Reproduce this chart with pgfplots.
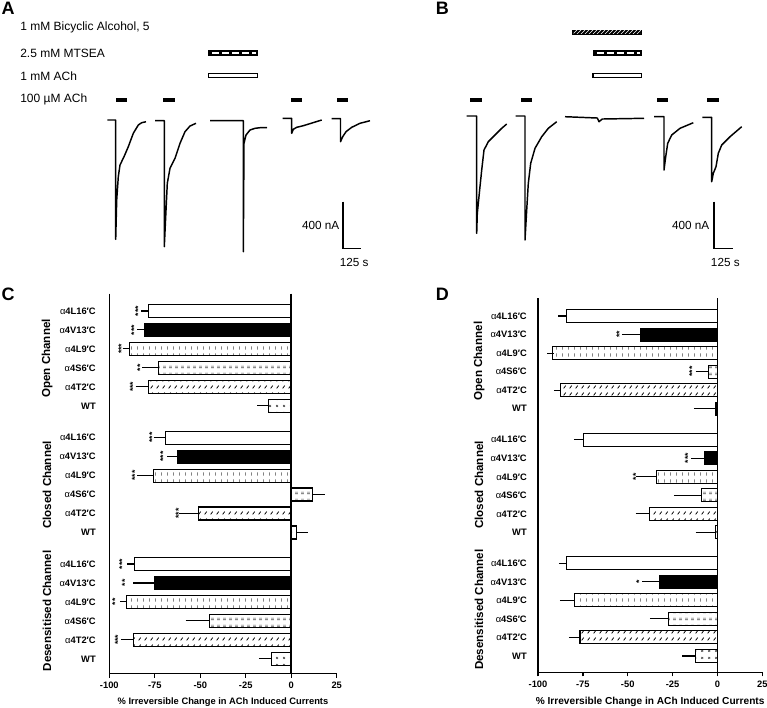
\documentclass[border=0pt]{standalone}
\usepackage{fontspec}
\setmainfont{Liberation Sans}
\usepackage{pgfplots}
\pgfplotsset{compat=1.18}
\usetikzlibrary{patterns}

\pgfdeclarepatternformonly{vdash}{\pgfpointorigin}{\pgfqpoint{4.2pt}{4.9pt}}{\pgfqpoint{4.2pt}{4.9pt}}{%
  \pgfsetlinewidth{0.55pt}%
  \pgfpathmoveto{\pgfqpoint{2.1pt}{1.2pt}}\pgfpathlineto{\pgfqpoint{2.1pt}{3.7pt}}\pgfusepath{stroke}}
\pgfdeclarepatternformonly{hdash}{\pgfpointorigin}{\pgfqpoint{4.5pt}{4.9pt}}{\pgfqpoint{4.5pt}{4.9pt}}{%
  \pgfsetlinewidth{0.45pt}%
  \pgfpathmoveto{\pgfqpoint{1.0pt}{1.8pt}}\pgfpathlineto{\pgfqpoint{3.3pt}{1.8pt}}%
  \pgfpathmoveto{\pgfqpoint{1.0pt}{3.1pt}}\pgfpathlineto{\pgfqpoint{3.3pt}{3.1pt}}\pgfusepath{stroke}}
\pgfdeclarepatternformonly{slashes}{\pgfpointorigin}{\pgfqpoint{4.3pt}{4.9pt}}{\pgfqpoint{4.3pt}{4.9pt}}{%
  \pgfsetlinewidth{0.6pt}%
  \pgfpathmoveto{\pgfqpoint{1.3pt}{1.3pt}}\pgfpathlineto{\pgfqpoint{2.9pt}{3.5pt}}\pgfusepath{stroke}}
\pgfdeclarepatternformonly{xdots}{\pgfpointorigin}{\pgfqpoint{4.9pt}{4.9pt}}{\pgfqpoint{4.9pt}{4.9pt}}{%
  \pgfsetlinewidth{0.45pt}%
  \pgfpathmoveto{\pgfqpoint{1.7pt}{1.7pt}}\pgfpathlineto{\pgfqpoint{3.2pt}{3.2pt}}%
  \pgfpathmoveto{\pgfqpoint{1.7pt}{3.2pt}}\pgfpathlineto{\pgfqpoint{3.2pt}{1.7pt}}\pgfusepath{stroke}}

\newcommand{\lab}[1]{{\mdseries α}4#1′C}

\tikzset{starlab/.style={xshift=-1.2pt, rotate=90, font=\bfseries\fontsize{6.5}{6.5}\selectfont, inner sep=0pt}}

\pgfplotsset{
  barpanel/.style={
    scale only axis, y dir=reverse, clip=false,
    xmin=-100, xmax=25,
    xbar, bar width=9.75pt, bar shift=0pt,
    axis x line*=bottom, axis y line*=left,
    axis line style={-, line width=1pt, black},
    xtick={-100,-75,-50,-25,0,25},
    xticklabels={-100,-75,-50,-25,0,25},
    xtick align=outside, major tick length=3pt,
    x tick style={black, line width=1pt},
    ytick={0,1,2,3,4,5,6.67,7.67,8.67,9.67,10.67,11.67,13.33,14.33,15.33,16.33,17.33,18.33},
    yticklabels={\lab{L16},\lab{V13},\lab{L9},\lab{S6},\lab{T2},WT,
                 \lab{L16},\lab{V13},\lab{L9},\lab{S6},\lab{T2},WT,
                 \lab{L16},\lab{V13},\lab{L9},\lab{S6},\lab{T2},WT},
    y tick style={draw=none},
    xticklabel style={font=\bfseries\fontsize{7}{8}\selectfont},
    yticklabel style={font=\bfseries\fontsize{7}{8}\selectfont, inner sep=0pt},
    error bars/x dir=both, error bars/x explicit,
    error bars/error bar style={line width=0.8pt, black},
    error bars/error mark options={line width=0.8pt, mark size=2.6pt, black},
  },
  bL16/.style={fill=white, draw=black, line width=0.8pt},
  bV13/.style={fill=black, draw=black, line width=0.8pt},
  bL9/.style={pattern=vdash, pattern color=black!75, draw=black, line width=0.8pt},
  bS6/.style={pattern=hdash, pattern color=black!70, draw=black, line width=0.8pt},
  bT2/.style={pattern=slashes, pattern color=black, draw=black, line width=0.8pt},
  bWT/.style={pattern=xdots, pattern color=black!70, draw=black, line width=0.8pt},
}

\begin{document}
\begin{tikzpicture}
\useasboundingbox (0,0) rectangle (575.25pt,-530.25pt);

% ---------------- overlay: panels A and B ----------------
\begin{axis}[at={(0pt,0pt)}, anchor=north west, x=0.75pt, y=0.75pt, y dir=reverse,
  xmin=0, xmax=767, ymin=0, ymax=707, hide axis, clip=false]
% traces A
\addplot[black, line width=1.1pt, line join=round] coordinates {(107.3,120) (115.7,120) (115.7,239.3) (116.7,200) (118.3,176.7) (120,165) (124,156.7) (128.3,146.7) (133.3,133.3) (138.3,125) (141.7,122.7) (146,121.7)};
\addplot[black, line width=1.1pt, line join=round] coordinates {(155,120.7) (164.3,120.7) (164.3,246.7) (165.7,216.7) (167.3,183.3) (170,168.3) (175,158.3) (180,143.3) (185,131.7) (190,126) (196,123.3)};
\addplot[black, line width=1.1pt, line join=round] coordinates {(210,120.7) (243.3,120.7) (243.3,251.7) (244,143.3) (246,135) (250,130) (255,128.3) (260,127.7) (267,127.5)};
\addplot[black, line width=1.1pt, line join=round] coordinates {(282.7,118.3) (291.7,118.3) (291.7,133.3) (293.3,129.3) (296.7,127.3) (303.3,125.7) (321.7,120)};
\addplot[black, line width=1.1pt, line join=round] coordinates {(331.7,118.7) (340.5,118.7) (340.5,141.7) (342.7,136.7) (346,131.7) (351.7,127.3) (360,123.3) (370,120.7)};
% traces B
\addplot[black, line width=1.1pt, line join=round] coordinates {(466.7,116) (476.7,116) (476.7,233.3) (477.3,213.3) (479.3,193.3) (481.7,170) (484,150) (488.3,141.7) (495,135) (501.7,128.3) (506.7,124)};
\addplot[black, line width=1.1pt, line join=round] coordinates {(515.7,116) (525,116) (525,240) (526.7,210) (528.3,183.3) (530.7,163.3) (535,148.3) (541.7,136.7) (548.3,128.3) (556.7,121.7)};
\addplot[black, line width=1.1pt, line join=round] coordinates {(565,116.7) (597.3,118) (599,121.7) (602.3,119) (644,118.3)};
\addplot[black, line width=1.1pt, line join=round] coordinates {(654,116.7) (664,116.7) (664,170) (665.7,156.7) (667.7,143.3) (671.7,135) (680,128.3) (693.3,122.7)};
\addplot[black, line width=1.1pt, line join=round] coordinates {(702.3,117.3) (711.7,117.3) (711.7,181.7) (713.3,173.3) (716,166.7) (718.3,153.3) (721.7,145) (730,136.7) (741.7,126.7)};
% scale bars
\addplot[black, line width=1.2pt] coordinates {(342.7,201.7) (342.7,248.5) (360.7,248.5)};
\addplot[black, line width=1.2pt] coordinates {(714,201.7) (714,248.3) (732.7,248.3)};
% 100 uM ACh bars
\addplot[fill=black, draw=none] coordinates {(116.3,97.7) (126.7,97.7) (126.7,102.3) (116.3,102.3)} -- cycle;
\addplot[fill=black, draw=none] coordinates {(163.3,97.7) (175,97.7) (175,102.3) (163.3,102.3)} -- cycle;
\addplot[fill=black, draw=none] coordinates {(290.7,97.7) (301.7,97.7) (301.7,102.3) (290.7,102.3)} -- cycle;
\addplot[fill=black, draw=none] coordinates {(337.3,97.7) (348.3,97.7) (348.3,102.3) (337.3,102.3)} -- cycle;
\addplot[fill=black, draw=none] coordinates {(470,97.7) (482.3,97.7) (482.3,102.3) (470,102.3)} -- cycle;
\addplot[fill=black, draw=none] coordinates {(520.7,97.7) (532.3,97.7) (532.3,102.3) (520.7,102.3)} -- cycle;
\addplot[fill=black, draw=none] coordinates {(656.7,97.7) (667.7,97.7) (667.7,102.3) (656.7,102.3)} -- cycle;
\addplot[fill=black, draw=none] coordinates {(707.3,97.7) (719,97.7) (719,102.3) (707.3,102.3)} -- cycle;
% 1 mM ACh bars
\addplot[fill=white, draw=black, line width=0.8pt] coordinates {(208.3,73.5) (257.3,73.5) (257.3,77.5) (208.3,77.5)} -- cycle;
\addplot[fill=white, draw=black, line width=0.8pt] coordinates {(593,73.2) (641.7,73.2) (641.7,77.2) (593,77.2)} -- cycle;
% MTSEA bars
\addplot[fill=black, draw=black, line width=0.6pt] coordinates {(208.3,50.6) (257.3,50.6) (257.3,55.4) (208.3,55.4)} -- cycle;
\addplot[white, line width=1.5pt, dash pattern=on 5.4pt off 2.1pt, dash phase=-1.5pt] coordinates {(210,53) (255.6,53)};
\addplot[fill=black, draw=black, line width=0.6pt] coordinates {(593,50.6) (641.5,50.6) (641.5,55.2) (593,55.2)} -- cycle;
\addplot[white, line width=1.5pt, dash pattern=on 5.4pt off 2.1pt, dash phase=-1.5pt] coordinates {(594.7,52.9) (639.8,52.9)};
% bicyclic alcohol bar
\addplot[fill=black, draw=black, line width=0.6pt] coordinates {(572.7,30) (641.7,30) (641.7,34.6) (572.7,34.6)} -- cycle;
\addplot[pattern=north east lines, pattern color=white, draw=none] coordinates {(573.5,30.8) (640.9,30.8) (640.9,33.8) (573.5,33.8)} -- cycle;

% texts
\node[anchor=west, font=\fontsize{9}{10}\selectfont, inner sep=0pt] at (axis cs:20,27) {1 mM Bicyclic Alcohol, 5};
\node[anchor=west, font=\fontsize{9}{10}\selectfont, inner sep=0pt] at (axis cs:20,53.5) {2.5 mM MTSEA};
\node[anchor=west, font=\fontsize{9}{10}\selectfont, inner sep=0pt] at (axis cs:20,76) {1 mM ACh};
\node[anchor=west, font=\fontsize{9}{10}\selectfont, inner sep=0pt] at (axis cs:20,99.5) {100 µM ACh};
\node[anchor=east, font=\fontsize{8.8}{10}\selectfont, inner sep=0pt] at (axis cs:339.5,225) {400 nA};
\node[anchor=west, font=\fontsize{8.8}{10}\selectfont, inner sep=0pt] at (axis cs:339.5,262) {125 s};
\node[anchor=east, font=\fontsize{8.8}{10}\selectfont, inner sep=0pt] at (axis cs:709.5,225) {400 nA};
\node[anchor=west, font=\fontsize{8.8}{10}\selectfont, inner sep=0pt] at (axis cs:710.7,262) {125 s};
% panel letters
\node[font=\bfseries\fontsize{13.5}{14}\selectfont, inner sep=0pt] at (axis cs:8,8) {A};
\node[font=\bfseries\fontsize{13.5}{14}\selectfont, inner sep=0pt] at (axis cs:442.3,8.3) {B};
\node[font=\bfseries\fontsize{13.5}{14}\selectfont, inner sep=0pt] at (axis cs:8,294) {C};
\node[font=\bfseries\fontsize{13.5}{14}\selectfont, inner sep=0pt] at (axis cs:442.3,294) {D};
% group labels
\node[rotate=90, font=\bfseries\fontsize{8.7}{10}\selectfont] at (axis cs:47,358.5) {Open Channel};
\node[rotate=90, font=\bfseries\fontsize{8.7}{10}\selectfont] at (axis cs:47,485) {Closed Channel};
\node[rotate=90, font=\bfseries\fontsize{8.7}{10}\selectfont] at (axis cs:47,611) {Desensitised Channel};
\node[rotate=90, font=\bfseries\fontsize{8.7}{10}\selectfont] at (axis cs:479,361) {Open Channel};
\node[rotate=90, font=\bfseries\fontsize{8.7}{10}\selectfont] at (axis cs:479,485) {Closed Channel};
\node[rotate=90, font=\bfseries\fontsize{8.7}{10}\selectfont] at (axis cs:479,609.7) {Desensitised Channel};
\end{axis}

% ---------------- panel C ----------------
\begin{axis}[barpanel, at={(81.975pt,-505.275pt)}, anchor=south west,
  width=170.55pt, height=285.15pt, ymin=-0.92, ymax=19.11,
  yticklabel style={xshift=-7pt},
  xlabel={\% Irreversible Change in ACh Induced Currents},
  xlabel style={font=\bfseries\fontsize{7}{8}\selectfont, at={(axis description cs:0.5,0)}, anchor=center, yshift=-21pt}]
\addplot[bL16] coordinates {(-78.6,0) += (0,0) -= (1.8,0) (-68.9,6.67) += (0,0) -= (4.8,0) (-86.3,13.33) += (0,0) -= (2,0)};
\addplot[bV13] coordinates {(-80.4,1) += (0,0) -= (2.4,0) (-62.5,7.67) += (0,0) -= (3.8,0) (-74.9,14.33) += (0,0) -= (9.9,0)};
\addplot[bL9] coordinates {(-89.0,2) += (0,0) -= (1.8,0) (-75.5,8.67) += (0,0) -= (7.3,0) (-90.8,15.33) += (0,0) -= (1.5,0)};
\addplot[bS6] coordinates {(-73.1,3) += (0,0) -= (7,0) (11.8,9.67) += (4.6,0) -= (0,0) (-44.8,16.33) += (0,0) -= (11.3,0)};
\addplot[bT2] coordinates {(-78.6,4) += (0,0) -= (5,0) (-50.8,10.67) += (0,0) -= (9.2,0) (-86.8,17.33) += (0,0) -= (5,0)};
\addplot[bWT] coordinates {(-12.3,5) += (0,0) -= (4.5,0) (2.7,11.67) += (4.6,0) -= (0,0) (-10.6,18.33) += (0,0) -= (5.3,0)};
\addplot[sharp plot, black, line width=1.1pt, forget plot] coordinates {(0,-0.92) (0,19.11)};
\node[starlab] at (axis cs:-83.2,0) {***};
\node[starlab] at (axis cs:-85.4,1) {***};
\node[starlab] at (axis cs:-92.5,2) {***};
\node[starlab] at (axis cs:-82.1,3) {**};
\node[starlab] at (axis cs:-86.2,4) {***};
\node[starlab] at (axis cs:-75.6,6.67) {***};
\node[starlab] at (axis cs:-69.5,7.67) {***};
\node[starlab] at (axis cs:-85.0,8.67) {***};
\node[starlab] at (axis cs:-61.0,10.67) {***};
\node[starlab] at (axis cs:-92.0,13.33) {***};
\node[starlab] at (axis cs:-90.5,14.33) {**};
\node[starlab] at (axis cs:-95.9,15.33) {**};
\node[starlab] at (axis cs:-94.4,17.33) {***};
\end{axis}

% ---------------- panel D ----------------
\begin{axis}[barpanel, at={(403.5pt,-504.225pt)}, anchor=south west,
  width=168.225pt, height=280.725pt, ymin=-0.97, ymax=19.21,
  yticklabel style={xshift=-5.25pt},
  xlabel={\% Irreversible Change in ACh Induced Currents},
  xlabel style={font=\bfseries\fontsize{7.6}{8}\selectfont, at={(axis description cs:0.5,0)}, anchor=center, yshift=-22pt}]
\addplot[bL16] coordinates {(-84.0,0) += (0,0) -= (2.8,0) (-74.9,6.67) += (0,0) -= (3.2,0) (-84.0,13.33) += (0,0) -= (2.4,0)};
\addplot[bV13] coordinates {(-43.1,1) += (0,0) -= (8.2,0) (-7.4,7.67) += (0,0) -= (5.2,0) (-32.0,14.33) += (0,0) -= (7.9,0)};
\addplot[bL9] coordinates {(-91.8,2) += (0,0) -= (1.1,0) (-33.8,8.67) += (0,0) -= (9.9,0) (-79.5,15.33) += (0,0) -= (6.4,0)};
\addplot[bS6] coordinates {(-5.2,3) += (0,0) -= (5,0) (-8.9,9.67) += (0,0) -= (13.4,0) (-27.5,16.33) += (0,0) -= (8.2,0)};
\addplot[bT2] coordinates {(-87.3,4) += (0,0) -= (1.9,0) (-38.1,10.67) += (0,0) -= (5.6,0) (-76.6,17.33) += (0,0) -= (4.3,0)};
\addplot[bWT] coordinates {(-0.8,5) += (0,0) -= (10.4,0) (-1.0,11.67) += (0,0) -= (9.2,0) (-12.4,18.33) += (0,0) -= (5.2,0)};
\addplot[sharp plot, black, line width=1.1pt, forget plot] coordinates {(0,-0.97) (0,19.21)};
\node[starlab] at (axis cs:-53.7,1) {**};
\node[starlab] at (axis cs:-13.2,3) {***};
\node[starlab] at (axis cs:-15.6,7.67) {***};
\node[starlab] at (axis cs:-44.6,8.67) {**};
\node[starlab] at (axis cs:-42.7,14.33) {*};
\end{axis}
\end{tikzpicture}
\end{document}
